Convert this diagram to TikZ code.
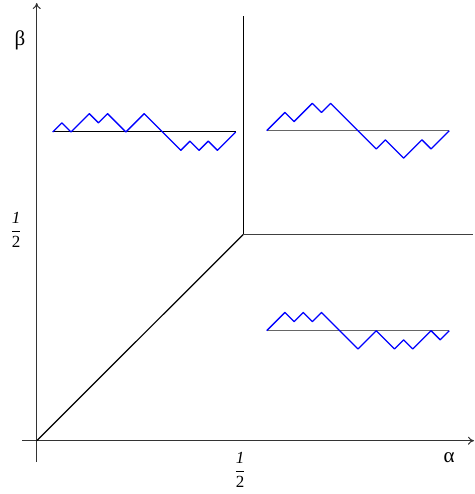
\documentclass[tikz,border=0pt]{standalone}
\usepackage{fontspec}
\setmainfont{Liberation Serif}
\usetikzlibrary{arrows.meta}
\begin{document}
\begin{tikzpicture}[x=1pt,y=-1pt,
  axis/.style={draw=black!80,line width=1pt,-{To[length=6pt,width=8pt]}},
  bound/.style={draw=black,line width=1.2pt},
  baseln/.style={draw=black!60,line width=1.3pt},
  walk/.style={draw=blue,line width=1.3pt,line join=round},
  lbl/.style={font=\fontsize{21}{24}\selectfont,inner sep=0pt},
  half/.style={font=\fontsize{17}{20}\selectfont,inner sep=0pt}]
\useasboundingbox (0,0) rectangle (474,494);
% axes
\coordinate (O) at (36.7,440.7);
\coordinate (ybot) at (36.7,462);
\coordinate (ytop) at (36.7,3);
\coordinate (xl) at (22,440.7);
\coordinate (xr) at (474,440.7);
\draw[axis] (ybot) -- (ytop);
\draw[axis] (xl) -- (xr);
% boundaries
\coordinate (C) at (243.3,234.5);
\coordinate (Ctop) at (243.3,16);
\coordinate (Cright) at (472.5,234.5);
\draw[bound] (O) -- (C);
\draw[bound] (C) -- (Ctop);
\draw[bound,draw=black!75] (C) -- (Cright);
% labels
\node[lbl] (beta) at (20,40) {β};
\node[lbl] (alpha) at (449,458) {α};
\node[half] (hl) at (16,230) {$\displaystyle\frac{\textit{1}}{\mbox{2}}$};
\node[half] (hb) at (240,470) {$\displaystyle\frac{\textit{1}}{\mbox{2}}$};
% walk 1
\coordinate (a0) at (52.7,132);
\coordinate (a1) at (235.7,132);
\draw[draw=black,line width=1pt] (a0) -- (a1);
\draw[walk] (a0) -- ++(9.15,-9.15) -- ++(9.15,9.15) -- ++(9.15,-9.15) -- ++(9.15,-9.15)
  -- ++(9.15,9.15) -- ++(9.15,-9.15) -- ++(9.15,9.15) -- ++(9.15,9.15)
  -- ++(9.15,-9.15) -- ++(9.15,-9.15) -- ++(9.15,9.15) -- ++(9.15,9.15)
  -- ++(9.15,9.15) -- ++(9.15,9.15) -- ++(9.15,-9.15) -- ++(9.15,9.15)
  -- ++(9.15,-9.15) -- ++(9.15,9.15) -- ++(9.15,-9.15) -- (a1);
% walk 2
\coordinate (b0) at (266.7,130.7);
\coordinate (b1) at (449.3,130.7);
\draw[baseln] (b0) -- (b1);
\draw[walk] (b0) -- ++(9.13,-9.13) -- ++(9.13,-9.13) -- ++(9.13,9.13) -- ++(9.13,-9.13)
  -- ++(9.13,-9.13) -- ++(9.13,9.13) -- ++(9.13,-9.13) -- ++(9.13,9.13)
  -- ++(9.13,9.13) -- ++(9.13,9.13) -- ++(9.13,9.13) -- ++(9.13,9.13)
  -- ++(9.13,-9.13) -- ++(9.13,9.13) -- ++(9.13,9.13) -- ++(9.13,-9.13)
  -- ++(9.13,-9.13) -- ++(9.13,9.13) -- ++(9.13,-9.13) -- (b1);
% walk 3
\coordinate (c0) at (266.7,330.7);
\coordinate (c1) at (449.3,330.7);
\draw[baseln] (c0) -- (c1);
\draw[walk] (c0) -- ++(9.13,-9.13) -- ++(9.13,-9.13) -- ++(9.13,9.13) -- ++(9.13,-9.13)
  -- ++(9.13,9.13) -- ++(9.13,-9.13) -- ++(9.13,9.13) -- ++(9.13,9.13)
  -- ++(9.13,9.13) -- ++(9.13,9.13) -- ++(9.13,-9.13) -- ++(9.13,-9.13)
  -- ++(9.13,9.13) -- ++(9.13,9.13) -- ++(9.13,-9.13) -- ++(9.13,9.13)
  -- ++(9.13,-9.13) -- ++(9.13,-9.13) -- ++(9.13,9.13) -- (c1);
\end{tikzpicture}
\end{document}
